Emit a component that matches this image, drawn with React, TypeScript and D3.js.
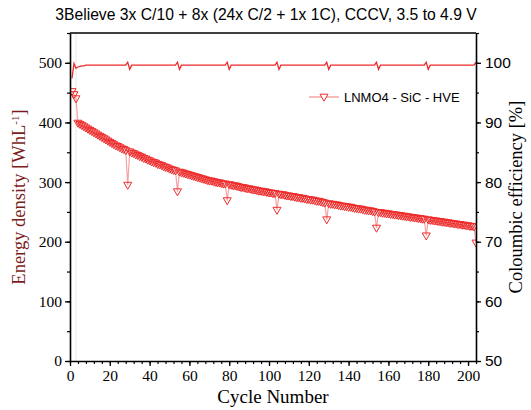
import React, { useEffect, useRef } from "react";
import * as d3 from "d3";

const title = "3Believe 3x C/10 + 8x (24x C/2 + 1x 1C), CCCV, 3.5 to 4.9 V";
const seriesName = "LNMO4 - SiC - HVE";

// energy density [Wh/L], one value per cycle starting at cycle 1
const energyDensity = [
  452, 447, 440,
  399, 397, 395, 393, 391, 389, 387, 385, 383, 381, 379, 377, 375, 373, 371, 369, 367, 365, 363, 361, 360, 358, 356, 355, 353,
  295,
  351, 349, 348, 346, 345, 343, 342, 340, 339, 337, 336, 334, 333, 332, 330, 329, 328, 326, 325, 324, 322, 321, 320, 319,
  284,
  317, 316, 315, 314, 313, 312, 311, 310, 309, 308, 307, 306, 305, 304, 303, 302, 302, 301, 300, 299, 299, 298, 297, 297,
  269,
  296, 295, 294, 294, 293, 292, 291, 291, 290, 289, 289, 288, 287, 287, 286, 285, 285, 284, 284, 283, 282, 282, 281, 281,
  253,
  280, 279, 279, 278, 277, 277, 276, 276, 275, 274, 274, 273, 273, 272, 271, 271, 270, 270, 269, 268, 268, 267, 266, 265,
  237,
  264, 263, 263, 262, 262, 261, 260, 260, 259, 259, 258, 258, 257, 256, 256, 255, 255, 254, 253, 253, 252, 252, 251, 250,
  223,
  249, 249, 248, 248, 247, 247, 246, 246, 245, 245, 244, 244, 243, 243, 242, 242, 241, 241, 240, 240, 239, 239, 238, 238,
  210,
  237, 236, 236, 235, 235, 234, 234, 233, 233, 232, 232, 231, 231, 230, 230, 229, 229, 228, 228, 227, 227, 226, 226, 225,
  198,
];

// coulombic efficiency [%], one value per cycle starting at cycle 1
const coulombicEff = [
  97.4, 99.9, 99.1, 99.3, 99.4, 99.5, 99.5, 99.6, 99.6, 99.6,
  99.6, 99.6, 99.6, 99.6, 99.6, 99.6, 99.6, 99.6, 99.6, 99.6, 99.6, 99.6, 99.6, 99.6, 99.6, 99.6, 99.6, 99.6,
  100.1, 98.9,
  99.6, 99.6, 99.6, 99.6, 99.6, 99.6, 99.6, 99.6, 99.6, 99.6, 99.6, 99.6, 99.6, 99.6, 99.6, 99.6, 99.6, 99.6, 99.6, 99.6, 99.6, 99.6, 99.6,
  100.1, 98.9,
  99.6, 99.6, 99.6, 99.6, 99.6, 99.6, 99.6, 99.6, 99.6, 99.6, 99.6, 99.6, 99.6, 99.6, 99.6, 99.6, 99.6, 99.6, 99.6, 99.6, 99.6, 99.6, 99.6,
  100.1, 98.9,
  99.6, 99.6, 99.6, 99.6, 99.6, 99.6, 99.6, 99.6, 99.6, 99.6, 99.6, 99.6, 99.6, 99.6, 99.6, 99.6, 99.6, 99.6, 99.6, 99.6, 99.6, 99.6, 99.6,
  100.1, 98.9,
  99.6, 99.6, 99.6, 99.6, 99.6, 99.6, 99.6, 99.6, 99.6, 99.6, 99.6, 99.6, 99.6, 99.6, 99.6, 99.6, 99.6, 99.6, 99.6, 99.6, 99.6, 99.6, 99.6,
  100.1, 98.9,
  99.6, 99.6, 99.6, 99.6, 99.6, 99.6, 99.6, 99.6, 99.6, 99.6, 99.6, 99.6, 99.6, 99.6, 99.6, 99.6, 99.6, 99.6, 99.6, 99.6, 99.6, 99.6, 99.6,
  100.1, 98.9,
  99.6, 99.6, 99.6, 99.6, 99.6, 99.6, 99.6, 99.6, 99.6, 99.6, 99.6, 99.6, 99.6, 99.6, 99.6, 99.6, 99.6, 99.6, 99.6, 99.6, 99.6, 99.6, 99.6,
  100.1, 98.9,
  99.6, 99.6, 99.6, 99.6, 99.6, 99.6, 99.6, 99.6, 99.6, 99.6, 99.6, 99.6, 99.6, 99.6, 99.6, 99.6, 99.6, 99.6, 99.6, 99.6, 99.6, 99.6, 99.6,
  100.1,
];

const xTicks = [0, 20, 40, 60, 80, 100, 120, 140, 160, 180, 200];
const leftTicks = [0, 100, 200, 300, 400, 500];
const rightTicks = [50, 60, 70, 80, 90, 100];

const RED = "#ee2b2b";

const App = () => {
  const ref = useRef<SVGSVGElement>(null);

  useEffect(() => {
    const W = 531, H = 410;
    const left = 70, right = 476, top = 33, bottom = 361;
    const svg = d3.select(ref.current);
    svg.selectAll("*").remove();

    const x = d3.scaleLinear().domain([0, 204]).range([left, right]);
    const y = d3.scaleLinear().domain([0, 550]).range([bottom, top]);
    const y2 = d3.scaleLinear().domain([50, 105]).range([bottom, top]);

    const energy = energyDensity.map((v, i) => ({ c: i + 1, v }));
    const ce = coulombicEff.map((v, i) => ({ c: i + 1, v }));

    svg.append("rect").attr("width", W).attr("height", H).attr("fill", "white");

    // title
    svg.append("text")
      .attr("x", 266).attr("y", 20)
      .attr("text-anchor", "middle")
      .style("font-family", "'Liberation Sans', Arial, sans-serif")
      .style("font-size", "15.7px")
      .text(title);

    const clip = svg.append("defs").append("clipPath").attr("id", "plotclip");
    clip.append("rect").attr("x", left).attr("y", top).attr("width", right - left).attr("height", bottom - top);

    // faint guide line
    svg.append("line")
      .attr("x1", x(3)).attr("x2", x(3)).attr("y1", top).attr("y2", bottom)
      .attr("stroke", "#f0f0f0").attr("stroke-width", 1.5);

    const g = svg.append("g").attr("clip-path", "url(#plotclip)");

    // energy density connecting line
    g.append("path")
      .datum(energy)
      .attr("d", d3.line<any>().x((d) => x(d.c)).y((d) => y(d.v)))
      .attr("fill", "none")
      .attr("stroke", "#f6a3a3")
      .attr("stroke-width", 1.2);

    const tri = "M-4,-2.8L4,-2.8L0,4.2Z";
    g.selectAll("path.mk")
      .data(energy)
      .join("path")
      .attr("class", "mk")
      .attr("d", tri)
      .attr("transform", (d) => `translate(${x(d.c)},${y(d.v)})`)
      .attr("fill", "none")
      .attr("stroke", RED)
      .attr("stroke-width", 1);

    // coulombic efficiency
    g.append("path")
      .datum(ce)
      .attr("d", d3.line<any>().x((d) => x(d.c)).y((d) => y2(d.v)))
      .attr("fill", "none")
      .attr("stroke", RED)
      .attr("stroke-width", 1.3);

    // frame
    svg.append("line").attr("x1", left).attr("x2", right).attr("y1", top).attr("y2", top)
      .attr("stroke", "black").attr("stroke-width", 1.5);

    const serif = "'Liberation Serif', 'Times New Roman', serif";
    const sans = "'Liberation Sans', Arial, sans-serif";

    const styleAxis = (sel: any, font: string) => {
      sel.select(".domain").attr("stroke", "black").attr("stroke-width", 1.6);
      sel.selectAll(".tick line").attr("stroke", "black").attr("stroke-width", 1.3);
      sel.selectAll("text").style("font-family", font).style("font-size", "15.5px").attr("fill", "black");
    };

    // minor ticks
    svg.append("g").attr("transform", `translate(0,${bottom})`)
      .call(d3.axisBottom(x).tickValues(d3.range(0, 205, 4)).tickSize(3).tickFormat(() => ""))
      .call((s) => { s.select(".domain").remove(); s.selectAll("line").attr("stroke", "black").attr("stroke-width", 1.2); });
    svg.append("g").attr("transform", `translate(${left},0)`)
      .call(d3.axisLeft(y).tickValues(d3.range(0, 551, 50)).tickSize(3).tickFormat(() => ""))
      .call((s) => { s.select(".domain").remove(); s.selectAll("line").attr("stroke", "black").attr("stroke-width", 1.2); });
    svg.append("g").attr("transform", `translate(${right},0)`)
      .call(d3.axisRight(y2).tickValues(d3.range(50, 106, 5)).tickSize(3).tickFormat(() => ""))
      .call((s) => { s.select(".domain").remove(); s.selectAll("line").attr("stroke", "black").attr("stroke-width", 1.2); });

    // major axes
    svg.append("g").attr("transform", `translate(0,${bottom})`)
      .call(d3.axisBottom(x).tickValues(xTicks).tickSize(5).tickSizeOuter(0).tickPadding(4))
      .call((s) => styleAxis(s, serif));
    svg.append("g").attr("transform", `translate(${left},0)`)
      .call(d3.axisLeft(y).tickValues(leftTicks).tickSize(5).tickSizeOuter(0).tickPadding(3))
      .call((s) => styleAxis(s, serif));
    svg.append("g").attr("transform", `translate(${right},0)`)
      .call(d3.axisRight(y2).tickValues(rightTicks).tickSize(5).tickSizeOuter(0).tickPadding(4))
      .call((s) => styleAxis(s, sans));

    // axis titles
    svg.append("text")
      .attr("x", (left + right) / 2).attr("y", 403)
      .attr("text-anchor", "middle")
      .style("font-family", serif).style("font-size", "19px")
      .text("Cycle Number");

    const lt = svg.append("text")
      .attr("transform", `translate(25,${(top + bottom) / 2}) rotate(-90)`)
      .attr("text-anchor", "middle")
      .attr("fill", "#7a1c1c")
      .style("font-family", serif).style("font-size", "18.5px");
    lt.append("tspan").text("Energy density [WhL");
    lt.append("tspan").attr("dy", -6).style("font-size", "11px").text("-1");
    lt.append("tspan").attr("dy", 6).text("]");

    svg.append("text")
      .attr("transform", `translate(522,${(top + bottom) / 2}) rotate(-90)`)
      .attr("text-anchor", "middle")
      .style("font-family", serif).style("font-size", "18.5px")
      .text("Coloumbic efficiency [%]");

    // legend
    const lg = svg.append("g").attr("transform", "translate(309,97)");
    lg.append("line").attr("x1", 0).attr("x2", 30).attr("y1", 0).attr("y2", 0)
      .attr("stroke", "#f6a3a3").attr("stroke-width", 1.5);
    lg.append("path").attr("d", tri).attr("transform", "translate(15,0)")
      .attr("fill", "white").attr("stroke", RED).attr("stroke-width", 1);
    lg.append("text").attr("x", 35).attr("y", 4.5)
      .style("font-family", sans).style("font-size", "13px")
      .text(seriesName);
  }, []);

  return (
    <svg ref={ref} width={531} height={410}
      style={{ position: "absolute", left: 0, top: 0, display: "block" }} />
  );
};

export default App;
